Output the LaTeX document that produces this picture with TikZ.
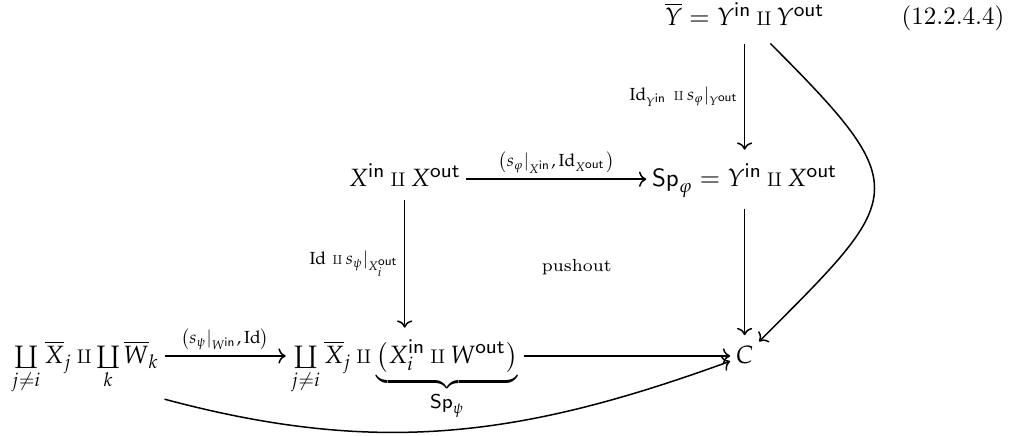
\documentclass[tikz,border=0pt]{standalone}
\usepackage{amsmath, amssymb}
\usepackage{mathpazo}
\usepackage{tikz}
\usetikzlibrary{arrows.meta}
\tikzset{obj/.style={inner sep=2pt, text height=9pt, text depth=3pt},
  lbl/.style={font=\scriptsize, inner sep=2pt}}
\newcommand{\sfin}{\mathsf{in}}
\newcommand{\sfout}{\mathsf{out}}
\newcommand{\smallamalg}{\mathbin{\mathchoice{\scriptstyle\amalg}{\scriptstyle\amalg}{\scriptscriptstyle\amalg}{\scriptscriptstyle\amalg}}}

\begin{document}
\begin{tikzpicture}[semithick]
\useasboundingbox (0,0) rectangle (14.30,6.13);
\node[obj, text height=11pt, text depth=5pt] (ybar) at (10.47,5.88) {$\overline{Y} = Y^{\sfin} \smallamalg Y^{\sfout}$};
\node[anchor=base] (tag) at (13.40,5.78) {(12.2.4.4)};
\node[obj] (xx) at (5.69,3.61) {$X^{\sfin} \smallamalg X^{\sfout}$};
\node[obj, text height=12.5pt, text depth=6.5pt] (spphi) at (10.47,3.61) {$\mathsf{Sp}_{\varphi} = Y^{\sfin} \smallamalg X^{\sfout}$};
\node[obj, text height=18pt, text depth=12pt] (wsum) at (1.20,1.125) {$\coprod\limits_{j\neq i}\overline{X}_j \smallamalg \coprod\limits_{k}\overline{W}_k$};
\node[obj, text height=12pt, text depth=6pt] (xsum) at (5.69,1.125) {$\coprod\limits_{j\neq i}\overline{X}_j \smallamalg \underbrace{\bigl(X_i^{\sfin} \smallamalg W^{\sfout}\bigr)}_{\mathsf{Sp}_{\psi}}$};
\node[obj] (c) at (10.47,1.125) {$C$};
\node[lbl] (po) at (8.11,2.38) {pushout};
% square
\draw[->] (ybar) -- node[lbl,left] {$\mathrm{Id}_{Y^{\sfin}}\,\smallamalg s_{\varphi}|_{Y^{\sfout}}$} (spphi);
\draw[->] (xx) -- node[lbl,above] {$\bigl(s_{\varphi}|_{X^{\sfin}},\mathrm{Id}_{X^{\sfout}}\bigr)$} (spphi);
\draw[->] (xx) -- node[lbl,left] {$\mathrm{Id}\,\smallamalg s_{\psi}|_{X_i^{\sfout}}$} (xsum);
\draw[->] (spphi) -- (c);
\draw[->] (wsum) -- node[lbl,above] {$\bigl(s_{\psi}|_{W^{\sfin}},\mathrm{Id}\bigr)$} (xsum);
\draw[->] (xsum) -- (c);
% outer maps
\draw[->] (ybar) to[out=-45, in=45, looseness=1.77] (c);
\draw[->] (wsum.south east) to[out=-15, in=200] (c);
\end{tikzpicture}
\end{document}
